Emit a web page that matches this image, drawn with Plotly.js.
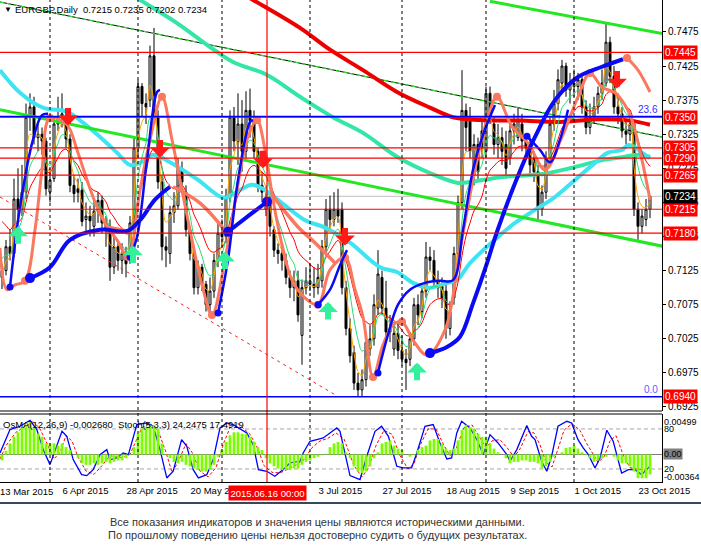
<!DOCTYPE html>
<html><head><meta charset="utf-8">
<script src="https://cdn.plot.ly/plotly-3.0.1.min.js"></script>
<style>html,body{margin:0;padding:0;background:#fff;}#chart{width:701px;height:552px;}</style>
</head><body><div id="chart"></div>
<script>
// ---------- price data (daily bars) ----------
const opens = [.7115,.7125,.7160,.7150,.7230,.7215,.7240,.7350,.7365,.7320,.7325,.7315,.7240,.7260,.7340,.7350,.7345,.7318,.7250,.7245,
.7243,.7200,.7205,.7190,.7212,.7228,.7195,.7190,.7130,.7160,.7140,.7150,.7140,.7195,.7305,.7395,.7370,.7375,.7440,.7350,
.7255,.7160,.7150,.7210,.7220,.7275,.7240,.7185,.7150,.7100,.7130,.7105,.7075,.7095,.7140,.7180,.7175,.7235,.7350,.7315,
.7340,.7300,.7360,.7345,.7300,.7250,.7215,.7230,.7185,.7155,.7150,.7140,.7115,.7100,.7110,.7030,.7100,.7110,.7105,.7100,
.7110,.7160,.7215,.7200,.7215,.7215,.7100,.7040,.7005,.6960,.6950,.6965,.7010,.7025,.7070,.7115,.7070,.7035,.7010,.7033,
.7008,.6995,.6995,.7025,.7075,.7065,.7095,.7145,.7140,.7110,.7105,.7095,.7040,.7085,.7150,.7225,.7360,.7345,.7265,.7310,
.7330,.7300,.7385,.7340,.7310,.7320,.7310,.7290,.7330,.7320,.7340,.7315,.7305,.7290,.7270,.7215,.7240,.7290,.7340,.7370,
.7400,.7425,.7390,.7400,.7395,.7405,.7365,.7335,.7350,.7365,.7385,.7400,.7460,.7410,.7365,.7355,.7330,.7325,.7340,.7215,
.7190,.7200,.7215];
const highs = [.7135,.7170,.7185,.7260,.7275,.7280,.7370,.7385,.7380,.7340,.7335,.7320,.7275,.7350,.7380,.7385,.7360,.7325,.7265,.7260,
.7255,.7225,.7220,.7230,.7240,.7235,.7205,.7200,.7175,.7170,.7165,.7160,.7205,.7320,.7405,.7400,.7385,.7455,.7481,.7360,
.7265,.7175,.7220,.7240,.7290,.7285,.7250,.7190,.7155,.7140,.7135,.7110,.7115,.7150,.7195,.7200,.7245,.7360,.7365,.7385,
.7375,.7388,.7392,.7360,.7305,.7270,.7250,.7235,.7190,.7165,.7160,.7150,.7125,.7125,.7125,.7112,.7130,.7135,.7130,.7135,
.7170,.7230,.7235,.7240,.7245,.7225,.7110,.7055,.7015,.6975,.6980,.7030,.7045,.7090,.7155,.7125,.7110,.7060,.7050,.7050,
.7030,.7010,.7035,.7085,.7090,.7105,.7167,.7160,.7155,.7125,.7115,.7110,.7080,.7160,.7235,.7419,.7370,.7365,.7325,.7320,
.7345,.7395,.7395,.7350,.7340,.7335,.7330,.7345,.7355,.7365,.7355,.7325,.7320,.7300,.7280,.7250,.7300,.7350,.7390,.7420,
.7434,.7430,.7415,.7420,.7415,.7410,.7375,.7370,.7380,.7395,.7420,.7488,.7468,.7425,.7385,.7365,.7345,.7350,.7345,.7225,
.7215,.7230,.7235];
const lows = [.7098,.7118,.7140,.7145,.7200,.7205,.7230,.7330,.7310,.7300,.7295,.7235,.7225,.7255,.7330,.7335,.7305,.7240,.7225,.7225,
.7190,.7180,.7175,.7175,.7195,.7180,.7160,.7110,.7120,.7125,.7120,.7115,.7135,.7180,.7290,.7350,.7340,.7365,.7340,.7245,
.7140,.7130,.7135,.7195,.7215,.7240,.7175,.7140,.7090,.7090,.7095,.7065,.7060,.7085,.7130,.7160,.7165,.7225,.7300,.7280,
.7270,.7290,.7320,.7290,.7240,.7225,.7205,.7175,.7145,.7135,.7125,.7105,.7085,.7080,.7050,.6987,.7090,.7095,.7085,.7090,
.7100,.7150,.7185,.7190,.7195,.7090,.7030,.6990,.6950,.6940,.6940,.6955,.7000,.7015,.7060,.7060,.7025,.7020,.7000,.6995,
.6985,.6950,.6985,.7015,.7045,.7055,.7085,.7125,.7100,.7085,.7070,.7025,.7030,.7075,.7145,.7215,.7300,.7290,.7250,.7255,
.7290,.7290,.7340,.7295,.7290,.7280,.7260,.7280,.7310,.7315,.7300,.7290,.7265,.7255,.7197,.7205,.7230,.7280,.7330,.7360,
.7390,.7380,.7370,.7380,.7375,.7355,.7325,.7325,.7340,.7355,.7375,.7395,.7400,.7355,.7340,.7320,.7310,.7315,.7205,.7170,
.7180,.7190,.7202];
const closes = [.7125,.7160,.7150,.7230,.7215,.7240,.7350,.7365,.7320,.7325,.7315,.7245,.7258,.7340,.7350,.7355,.7318,.7250,.7238,.7240,
.7197,.7205,.7198,.7212,.7228,.7195,.7185,.7130,.7160,.7140,.7150,.7135,.7195,.7305,.7395,.7370,.7365,.7440,.7350,.7255,
.7160,.7155,.7210,.7220,.7275,.7255,.7185,.7150,.7100,.7130,.7105,.7075,.7095,.7140,.7180,.7175,.7235,.7350,.7315,.7340,
.7300,.7360,.7345,.7300,.7250,.7240,.7230,.7190,.7155,.7150,.7140,.7115,.7100,.7110,.7060,.7100,.7110,.7105,.7100,.7115,
.7160,.7215,.7200,.7215,.7205,.7100,.7040,.7000,.6960,.6950,.6965,.7020,.7025,.7075,.7120,.7070,.7035,.7040,.7033,.7008,
.6995,.6990,.7025,.7075,.7060,.7095,.7145,.7140,.7110,.7100,.7085,.7040,.7065,.7150,.7225,.7360,.7335,.7300,.7310,.7270,
.7305,.7385,.7355,.7310,.7320,.7300,.7275,.7330,.7340,.7345,.7315,.7305,.7280,.7270,.7215,.7240,.7290,.7340,.7370,.7405,
.7425,.7390,.7400,.7395,.7405,.7365,.7335,.7350,.7365,.7385,.7400,.7460,.7410,.7365,.7355,.7330,.7325,.7340,.7215,.7190,
.7205,.7215,.7234];

// ---------- axis labels ----------
const yTicks = [0.6925,0.6975,0.7025,0.7075,0.7125,0.7175,0.7225,0.7275,0.7325,0.7375,0.7425,0.7475];
const dateBars = [15,31,47,79,95,111,127,143,159];
const dateText = ['6 Apr 2015','28 Apr 2015','20 May 2015','3 Jul 2015','27 Jul 2015','18 Aug 2015','9 Sep 2015','1 Oct 2015','23 Oct 2015'];
const firstDateText = '13 Mar 2015';
const monthStarts = [12,34,55,77,100,121,143];
const markedBar = 66.25, markedText = '2015.06.16 00:00';

// ---------- horizontal levels ----------
const redLevels = [0.7445,0.7350,0.7305,0.7290,0.7265,0.7215,0.7180];
const fiboLevels = [0.7351,0.6940];
const fiboText = ['23.6','0.0'];
const boxLevels = [0.7445,0.7350,0.7305,0.7290,0.7265,0.7215,0.7180,0.6940];

// ---------- indicator lines [bar, price] ----------
const redMA = [[49.5,0.7566],[62.75,0.7522],[74.5,0.7481],[82,0.7449],[90.25,0.7419],[98.75,0.7387],[107,0.7364],[112.75,0.7350],[119.5,0.7346],[129.5,0.7345],[139.5,0.7343],[149.5,0.7347],[157,0.7345],[162,0.7339]];
const cyanMA = [[-0.5,0.7419],[4.5,0.7386],[10.25,0.7364],[16.25,0.7358],[20.25,0.7342],[24.5,0.7321],[28.75,0.7298],[32,0.7280],[34.5,0.7283],[37.75,0.7295],[42,0.7284],[49,0.7258],[55.25,0.7232],[58.25,0.7239],[62.5,0.7251],[65.75,0.7243],[70,0.7224],[75.75,0.7199],[80.75,0.7188],[87,0.7166],[94.5,0.7130],[98.75,0.7123],[102.75,0.7107],[107,0.7100],[111.25,0.7107],[113.75,0.7111],[117,0.7136],[121.25,0.7160],[124.5,0.7177],[128.25,0.7195],[133.25,0.7214],[138.25,0.7233],[143.25,0.7258],[148.25,0.7283],[151.5,0.7298],[155,0.7302],[156.5,0.7309],[158.25,0.7306],[160,0.7298],[162,0.7290]];
const aquaMA = [[24.5,0.7559],[34.5,0.7522],[43.75,0.7488],[52,0.7453],[57.75,0.7431],[66.25,0.7412],[74.5,0.7380],[82.75,0.7350],[90.25,0.7327],[98.75,0.7292],[107,0.7268],[113.75,0.7254],[117,0.7255],[124.5,0.7262],[131.5,0.7265],[136.5,0.7268],[143.25,0.7277],[150,0.7287],[155.75,0.7292],[159,0.7295],[162,0.7292]];
const fastSalmon = [[-0.5,0.7158],[1.25,0.7097],[3.25,0.7104],[5.75,0.7110],[8.25,0.7185],[10,0.7273],[12,0.7349],[16.25,0.7339],[18.75,0.7302],[21.25,0.7258],[23.75,0.7218],[26.25,0.7189],[28.75,0.7170],[31.5,0.7145],[34.5,0.7243],[37,0.7317],[40,0.7380],[42.5,0.7317],[45,0.7243],[47.5,0.7170],[50,0.7104],[52.5,0.7060],[55.75,0.7141],[58.75,0.7243],[61.25,0.7317],[63.75,0.7346],[65.75,0.7302],[67.75,0.7229],[70,0.7163],[72.5,0.7111],[75.75,0.7085],[79,0.7075],[82,0.7126],[85.75,0.7144],[88.25,0.7097],[90.25,0.7057],[92.75,0.6969],[95.25,0.7016],[97.75,0.7045],[100,0.7050],[102.75,0.7023],[106.25,0.7001],[110.75,0.7038],[114.5,0.7155],[118.25,0.7273],[121.25,0.7346],[123.75,0.7380],[127.5,0.7336],[131.5,0.7312],[135.75,0.7273],[140,0.7321],[144,0.7380],[147,0.7415],[150,0.7394],[153.25,0.7386],[155.75,0.7368],[157.5,0.7346],[160,0.7287],[162,0.7229],null,[156.25,0.7437],[159,0.7419],[162,0.7387]];
const fastSalmonDots = [[5.75,0.7110],[12,0.7349],[31.5,0.7145],[40,0.7380],[52.5,0.7060],[63.75,0.7346],[79,0.7075],[85.75,0.7144],[92.75,0.6969],[100,0.7050],[123.75,0.7380],[147,0.7415],[156.25,0.7437]];
const slowSalmon = [[26.25,0.7189],[32,0.7182],null,[42.75,0.7248],[49.5,0.7224],[56.25,0.7180],null,[67.5,0.7236],[74,0.7189],[78.25,0.7166],[83.25,0.7136]];
const fastBlue = [[2,0.7101],[4.5,0.7218],[7.75,0.7317],[10,0.7353],[11.5,0.7355],null,[32,0.7145],[33.75,0.7174],[36.25,0.7287],[38.75,0.7387],[39.5,0.7390],null,[54,0.7063],[56.5,0.7141],[59,0.7258],[62,0.7343],[62.75,0.7346],null,[79,0.7075],[82,0.7097],[84.5,0.7133],[86.25,0.7155],null,[94,0.6975],[96.5,0.7031],[99,0.7075],[102,0.7097],[105.75,0.7107],[109.5,0.7110],[112.75,0.7111],[115.25,0.7185],[117.75,0.7273],[120.25,0.7324],[123.25,0.7368],null,[131.25,0.7322],[134.5,0.7302],[137,0.7284],[139.5,0.7317],[141.5,0.7361]];
const fastBlueDots = [[2,0.7101],[32,0.7145],[54,0.7063],[79,0.7075],[94,0.6975],[131.25,0.7322]];
const slowBlue = [[7,0.7114],[12,0.7130],[17,0.7170],[24.5,0.7185],[31.25,0.7183],[34.5,0.7199],[38.25,0.7229],[42,0.7248],null,[56.5,0.7182],[62,0.7207],[66.25,0.7226],null,[107,0.7004],[111.25,0.7013],[114.5,0.7028],[117.75,0.7077],[121.25,0.7136],[123.75,0.7182],[128.25,0.7253],[133.25,0.7321],[138.25,0.7375],[144,0.7409],[150,0.7424],[155.25,0.7435]];
const slowBlueDots = [[7,0.7114],[56.5,0.7182],[66.25,0.7226],[107,0.7004]];
// straight trend lines [bar, price]
const lowerChannel = [[-0.5,0.7361],[165.75,0.7160]];
const upperChannel = [[122,0.7520],[165.75,0.7472]];
const darkTrend = [[-0.5,0.7519],[165.75,0.7320]];
const redDotTrend = [[-0.5,0.7233],[83.25,0.6943]];
// moving average seeds read at the left edge [orange, green, thin red]
const maSeeds = [0.7110,0.7150,0.7210];
// arrow signals [bar, tip price]
const sellArrows = [[16.5,0.7338],[39.5,0.7291],[65.25,0.7275],[85.75,0.7162],[153.75,0.7392]];
const buyArrows = [[4,0.7190],[32.75,0.7162],[55.75,0.7153],[81.5,0.7079],[103.75,0.6990]];

// ---------- oscillator data ----------
const osma = [-0.0008,0.0005,0.0015,0.0024,0.0030,0.0037,0.0040,0.0044,0.0037,0.0028,
0.0024,0.0015,0.0015,0.0015,0.0012,0.0015,0.0010,0.0006,0.0000,-0.0005,
-0.0012,-0.0014,-0.0014,-0.0012,-0.0014,-0.0012,-0.0010,-0.0012,-0.0010,-0.0008,
-0.0008,-0.0005,-0.0001,0.0010,0.0028,0.0035,0.0037,0.0040,0.0040,0.0035,
0.0015,-0.0001,-0.0005,-0.0010,-0.0012,-0.0010,-0.0014,-0.0016,-0.0019,-0.0021,
-0.0023,-0.0023,-0.0021,-0.0014,-0.0003,0.0006,0.0017,0.0026,0.0030,0.0030,
0.0028,0.0028,0.0024,0.0017,0.0010,0.0006,-0.0005,-0.0012,-0.0016,-0.0019,
-0.0021,-0.0021,-0.0021,-0.0019,-0.0019,-0.0014,-0.0010,-0.0008,-0.0005,-0.0003,
-0.0001,0.0001,0.0010,0.0015,0.0017,0.0015,0.0003,-0.0005,-0.0016,-0.0023,
-0.0025,-0.0023,-0.0016,-0.0005,0.0003,0.0015,0.0017,0.0019,0.0012,0.0008,
0.0006,0.0000,-0.0003,-0.0001,0.0006,0.0010,0.0012,0.0019,0.0021,0.0021,
0.0015,0.0008,0.0006,0.0008,0.0019,0.0033,0.0040,0.0037,0.0035,0.0028,
0.0024,0.0024,0.0015,0.0008,0.0003,0.0000,-0.0005,-0.0012,-0.0010,-0.0010,
-0.0008,-0.0008,-0.0010,-0.0010,-0.0012,-0.0019,-0.0016,-0.0010,-0.0003,0.0000,
0.0003,0.0009,0.0010,0.0012,0.0008,0.0003,-0.0001,-0.0005,-0.0010,-0.0008,
-0.0005,-0.0003,0.0000,-0.0003,-0.0008,-0.0012,-0.0012,-0.0016,-0.0023,-0.0032,
-0.0032,-0.0032,-0.0027];
const stochMain = [[-0.5,44],[2,79],[4.5,84],[7,93],[8.7,79],[10.3,49],[12,26.5],[13.7,54],[15,76.5],[16.2,69],[17.8,34],[19.9,11.5],[21.2,10],[22.8,19],[24.5,41.5],[26.2,49],[27,34],[28.7,36.5],[30.3,44],[31.6,41.5],[32.4,59],[33.7,86.5],[36.2,89],[37.8,84],[39.5,49],[41.2,6.5],[42.8,16.5],[44.9,64],[46.2,54],[47.8,19],[49.1,6.5],[51.2,11.5],[52.8,34],[54.5,81.5],[56.2,89],[57.8,86.5],[61.2,74],[62.8,56.5],[64.1,19],[66.2,16.5],[68.2,9],[70.3,19],[72,29],[74.5,31.5],[75.3,44],[77,61.5],[78.7,64],[80.3,66.5],[82,74],[83.7,81.5],[84.5,76.5],[87,10],[89.5,4],[91.2,39],[93.25,76.5],[94.9,84],[96.6,69],[98.7,24],[100.3,21.5],[102.4,21.5],[103.7,44],[105.75,84],[107.8,86.5],[109.5,59],[111.2,35],[112.4,36.5],[113.7,74],[114.9,91.5],[117,81.5],[118.7,64],[120.3,41.5],[122,71.5],[124,59],[126.2,41.5],[127,31.5],[128.7,49],[131.2,85],[132.4,69],[133.25,64],[134.9,31.5],[136.2,16.5],[137.4,39],[139,84],[141.2,91.5],[142.4,89],[144,64],[145.3,51.5],[146.6,41.5],[148.25,21.5],[149.5,36.5],[151.2,78],[152.8,61.5],[154.9,14],[156.6,19],[158.25,19],[159.9,11.5],[162,24.25]];
const stochSignal = [[-0.5,35],[1,55],[3.5,75],[6,85],[8,90],[9.5,80],[11.5,55],[13,35],[14.5,45],[16,70],[17.5,62],[19,38],[21,17],[23,12],[25,25],[27,40],[28.5,38],[30,37],[32,42],[33.5,62],[35,82],[37,88],[39,78],[41,45],[42.5,15],[44,30],[46,58],[47.5,45],[49.5,17],[51.5,8],[53.5,22],[55.5,60],[57,82],[59,88],[62,72],[64,50],[65.5,25],[67.5,15],[69.5,14],[71.5,20],[73.5,26],[75.5,34],[77.5,52],[79.5,62],[81.5,66],[83.5,74],[85.5,65],[88,25],[90,8],[91.5,20],[93.5,55],[95.5,78],[97.5,72],[99.5,40],[101.5,20],[103,28],[104.5,55],[106.5,80],[108.5,80],[110.5,55],[112,40],[113.5,50],[115.5,82],[117.5,86],[119.5,66],[121,52],[122.5,62],[124.5,64],[126.5,50],[128,38],[129.5,50],[131.5,76],[133,74],[134.5,56],[136,30],[137.5,23],[139,50],[140.5,78],[142.5,88],[144.5,78],[146,60],[147.5,45],[149,30],[150.5,38],[152,62],[153.5,70],[155.5,38],[157,22],[158.5,20],[160.5,18],[162,17.49]];
const oscHeader = 'OsMA(12,26,9) -0.002680  Stoch(5,3,3) 24.2475 17.4919';
const oscLabels = ['0.00499','80','0.00','20','-0.00364'];
const titleText = 'EURGBP,Daily  0.7215 0.7235 0.7202 0.7234';
const disclaimer = ['Все показания индикаторов и значения цены являются историческими данными.',
                    'По прошлому поведению цены нельзя достоверно судить о будущих результатах.'];

// ---------- build ----------
const FONT = 'Liberation Sans, Arial, sans-serif';
const bars = closes.map((_, i) => i);
const xs = a => a.map(p => p ? p[0] : null);
const ys = a => a.map(p => p ? p[1] : null);
function ema(src, n, seed) { const k = 2 / (n + 1); let prev = seed; return src.map(v => (prev = prev + k * (v - prev))); }
function line(pairs, color, width, opts) {
  return Object.assign({type:'scatter', mode:'lines', x:xs(pairs), y:ys(pairs), line:{color:color, width:width}, hoverinfo:'skip', connectgaps:false}, opts || {});
}
function dots(pairs, color, size) {
  return {type:'scatter', mode:'markers', x:xs(pairs), y:ys(pairs), marker:{color:color, size:size, line:{width:0}}, hoverinfo:'skip', cliponaxis:true};
}
const SALMON = '#f9785f', BLUE = '#0a0af5';
const traces = [
  {type:'candlestick', x:bars, open:opens, high:highs, low:lows, close:closes,
   increasing:{line:{color:'#000', width:1}, fillcolor:'#ffffff'},
   decreasing:{line:{color:'#000', width:1}, fillcolor:'#000000'},
   whiskerwidth:0, hoverinfo:'skip'},
  line(darkTrend, '#000', 1),
  line(darkTrend, '#33dd33', 1.3, {line:{color:'#33dd33', width:1.3, dash:'4px,3px'}}),
  line(redDotTrend, '#ff2020', 1, {line:{color:'#ff2020', width:1, dash:'3px,4px'}}),
  line(redMA, '#ee0000', 4, {line:{color:'#ee0000', width:4, shape:'spline'}}),
  line(aquaMA, '#33e6a5', 4, {line:{color:'#33e6a5', width:4, shape:'spline'}}),
  line(cyanMA, '#3fe4f2', 4, {line:{color:'#3fe4f2', width:4, shape:'spline'}}),
  line(lowerChannel, '#22e822', 3),
  line(upperChannel, '#22e822', 3),
  {type:'scatter', mode:'lines', x:bars, y:ema(closes, 12, maSeeds[2]), line:{color:'#ff0000', width:1, shape:'spline'}, hoverinfo:'skip'},
  {type:'scatter', mode:'lines', x:bars, y:ema(closes, 6, maSeeds[1]), line:{color:'#22dd77', width:1, shape:'spline'}, hoverinfo:'skip'},
  {type:'scatter', mode:'lines', x:bars, y:ema(closes, 3, maSeeds[0]), line:{color:'#ffa500', width:1, shape:'spline'}, hoverinfo:'skip'},
  line(slowSalmon, SALMON, 3.5, {line:{color:SALMON, width:3.5, shape:'spline'}}),
  line(fastSalmon, SALMON, 3, {line:{color:SALMON, width:3, shape:'spline'}}),
  dots(fastSalmonDots, SALMON, 8),
  line(slowBlue, BLUE, 4, {line:{color:BLUE, width:4, shape:'spline'}}),
  line(fastBlue, BLUE, 2.5, {line:{color:BLUE, width:2.5, shape:'spline'}}),
  dots(slowBlueDots, BLUE, 10),
  dots(fastBlueDots, BLUE, 7),
  // oscillator
  {type:'bar', x:bars, y:osma, xaxis:'x', yaxis:'y3', marker:{color:'#7cfc00', line:{width:0}}, width:0.7, hoverinfo:'skip'},
  line(stochSignal, '#ff0000', 1, {yaxis:'y2', line:{color:'#ff0000', width:1, dash:'3px,2px'}}),
  line(stochMain, '#0000ff', 1.3, {yaxis:'y2'})
];

const H = 482; // plot area height in px (top margin 0)
const py2paper = py => (H - py) / H;
const shapes = [];
monthStarts.forEach(b => shapes.push({type:'line', xref:'x', yref:'paper', x0:b, x1:b, y0:0, y1:1, line:{color:'#000', width:1, dash:'3px,3px'}, layer:'above'}));
redLevels.forEach(v => shapes.push({type:'line', xref:'paper', yref:'y', x0:0, x1:1, y0:v, y1:v, line:{color:'#ff0000', width:1.2}, layer:'above'}));
fiboLevels.forEach(v => shapes.push({type:'line', xref:'paper', yref:'y', x0:0, x1:1, y0:v, y1:v, line:{color:'#0000ff', width:1.3}, layer:'above'}));
const last = closes[closes.length - 1];
shapes.push({type:'line', xref:'paper', yref:'y', x0:0, x1:1, y0:last, y1:last, line:{color:'#c0c0c0', width:1}, layer:'below'});
shapes.push({type:'line', xref:'x', yref:'paper', x0:markedBar, x1:markedBar, y0:0, y1:1, line:{color:'#ff0000', width:1.2}, layer:'above'});
// panel borders
shapes.push({type:'line', xref:'paper', yref:'paper', x0:0, x1:1, y0:py2paper(411), y1:py2paper(411), line:{color:'#000', width:1}});
shapes.push({type:'line', xref:'paper', yref:'paper', x0:0, x1:1, y0:py2paper(414), y1:py2paper(414), line:{color:'#000', width:1}});
// oscillator levels
[80, 20].forEach(v => shapes.push({type:'line', xref:'paper', yref:'y2', x0:0, x1:1, y0:v, y1:v, line:{color:'#a8a8a8', width:1, dash:'4px,3px'}, layer:'below'}));
shapes.push({type:'line', xref:'paper', yref:'y3', x0:0, x1:1, y0:0, y1:0, line:{color:'#808080', width:1.2}, layer:'below'});
// footer separator
shapes.push({type:'line', xref:'paper', yref:'paper', x0:-0.01, x1:1.07, y0:py2paper(503), y1:py2paper(503), line:{color:'#34495e', width:2}});

const ann = [];
const f = (size, color) => ({family:FONT, size:size, color:color});
boxLevels.forEach(v => ann.push({xref:'paper', yref:'y', x:1, y:v, xanchor:'left', yanchor:'middle', xshift:1, text:v.toFixed(4), showarrow:false, font:f(10,'#fff'), bgcolor:'#ff0000', borderpad:1}));
ann.push({xref:'paper', yref:'y', x:1, y:last, xanchor:'left', yanchor:'middle', xshift:1, text:last.toFixed(4), showarrow:false, font:f(10,'#fff'), bgcolor:'#000000', borderpad:1});
ann.push({xref:'paper', yref:'y', x:660/662, y:fiboLevels[0], xanchor:'right', yanchor:'bottom', text:fiboText[0], showarrow:false, font:f(10,'#3030ff')});
ann.push({xref:'paper', yref:'y', x:660/662, y:fiboLevels[1], xanchor:'right', yanchor:'bottom', text:fiboText[1], showarrow:false, font:f(10,'#6060ff')});
sellArrows.forEach(a => ann.push({xref:'x', yref:'y', x:a[0], y:a[1], ax:0, ay:-19, text:'', showarrow:true, arrowhead:1, arrowsize:0.55, arrowwidth:6, arrowcolor:'#ff1a1a'}));
buyArrows.forEach(a => ann.push({xref:'x', yref:'y', x:a[0], y:a[1], ax:0, ay:19, text:'', showarrow:true, arrowhead:1, arrowsize:0.55, arrowwidth:6, arrowcolor:'#33f09a'}));
ann.push({xref:'paper', yref:'paper', x:2/662, y:py2paper(9), xanchor:'left', yanchor:'middle', text:'▼', showarrow:false, font:f(8,'#000')});
ann.push({xref:'paper', yref:'paper', x:13/662, y:py2paper(9), xanchor:'left', yanchor:'middle', text:titleText, showarrow:false, font:f(9.5,'#000')});
ann.push({xref:'paper', yref:'paper', x:1/662, y:py2paper(424), xanchor:'left', yanchor:'middle', text:oscHeader, showarrow:false, font:f(9.5,'#000')});
const oscLabelY = [90.9, 80, 42, 20, 8.4];
oscLabels.forEach((t, k) => ann.push({xref:'paper', yref:'y2', x:1, y:oscLabelY[k], xanchor:'left', yanchor:'middle', xshift:1, text:t, showarrow:false, font:f(9,'#000'), bgcolor: t === '0.00' ? '#808080' : 'rgba(0,0,0,0)', borderpad:0}));
ann.push({xref:'paper', yref:'paper', x:0, y:py2paper(492), xanchor:'left', yanchor:'middle', xshift:-2, text:firstDateText, showarrow:false, font:f(9.5,'#000')});
ann.push({xref:'x', yref:'paper', x:markedBar, y:py2paper(493), xanchor:'center', yanchor:'middle', text:markedText, showarrow:false, font:f(9.5,'#fff'), bgcolor:'#ff0000', borderpad:1.5});
disclaimer.forEach((t, k) => ann.push({xref:'paper', yref:'paper', x:317/662, y:py2paper(522 + 13 * k), xanchor:'center', yanchor:'middle', text:t, showarrow:false, font:f(11,'#333')}));

const layout = {
  width:701, height:552, margin:{l:0, r:39, t:0, b:70, pad:0},
  paper_bgcolor:'#fff', plot_bgcolor:'#fff', showlegend:false, hovermode:false, dragmode:false,
  bargap:0.3,
  xaxis:{domain:[0,1], range:[-0.5,165], anchor:'y2', showgrid:false, zeroline:false, showline:true, linecolor:'#000', linewidth:1,
         tickmode:'array', tickvals:dateBars, ticktext:dateText, ticks:'', ticklabelposition:'outside right',
         tickfont:f(9.5,'#000'), rangeslider:{visible:false}, fixedrange:true},
  yaxis:{domain:[py2paper(411),1], range:[0.69191,0.75219], side:'right', anchor:'x', showgrid:false, zeroline:false,
         showline:true, linecolor:'#000', linewidth:1, tickmode:'array', tickvals:yTicks, ticktext:yTicks.map(v => v.toFixed(4)),
         ticks:'outside', ticklen:3, tickcolor:'#000', tickfont:f(10,'#000'), fixedrange:true},
  yaxis2:{domain:[0,py2paper(414)], range:[0.45,102.4], side:'right', anchor:'x', showgrid:false, zeroline:false,
          showline:true, linecolor:'#000', linewidth:1, showticklabels:false, ticks:'', fixedrange:true},
  yaxis3:{overlaying:'y2', range:[-0.003716,0.005473], visible:false, showgrid:false, zeroline:false, fixedrange:true},
  shapes:shapes, annotations:ann
};
Plotly.newPlot('chart', traces, layout, {staticPlot:true, displayModeBar:false});
</script></body></html>
